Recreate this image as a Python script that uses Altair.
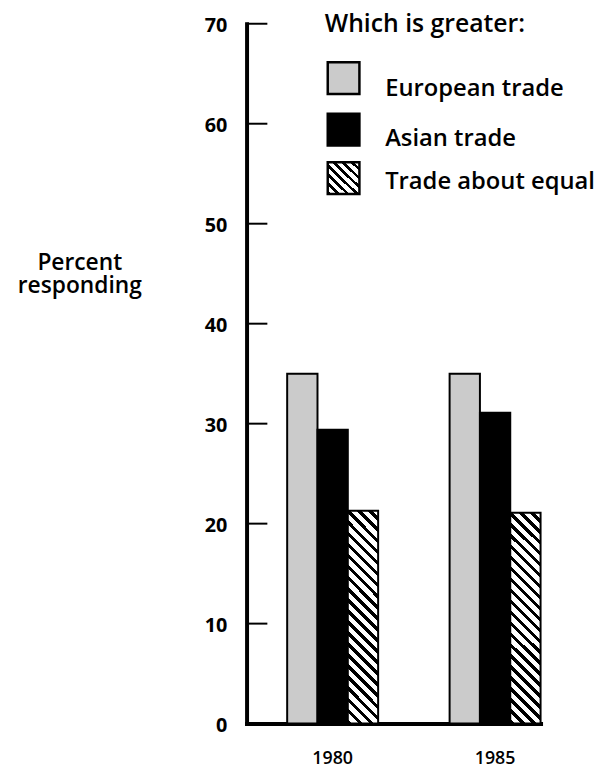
import altair as alt
import pandas as pd

years = ["1980", "1985"]
series = ["European trade", "Asian trade", "Trade about equal"]
european = [35.0, 35.0]
asian = [29.4, 31.1]
equal = [21.3, 21.1]
y_ticks = [0, 10, 20, 30, 40, 50, 60, 70]
legend_title = "Which is greater:"
y_title = ["Percent", "responding"]

rows = []
for i, yr in enumerate(years):
    for s, vals in zip(series, [european, asian, equal]):
        rows.append({"year": yr, "series": s, "value": vals[i]})
df = pd.DataFrame(rows)

W, H = 297, 707
YMAX = 70
PX = H / YMAX
P_IN, P_OUT = 0.44, 0.125
step = W / (len(years) - P_IN + 2 * P_OUT)
bar_w = step * (1 - P_IN) / len(series)
FONT = "Open Sans"
STIPPLE = "#cbcbcb"


def hatch(w, h, period, frac=0.42):
    a = (w + h) / (w * w + h * h)
    dx, dy = a * w, -a * h
    n = max(1, round((w + h) / period))
    stops = []
    for k in range(n):
        o0, o1, o2 = k / n, (k + frac) / n, (k + 1) / n
        stops += [
            {"offset": o0, "color": "#000000"},
            {"offset": o1, "color": "#000000"},
            {"offset": o1, "color": "#ffffff"},
            {"offset": o2, "color": "#ffffff"},
        ]
    return {"gradient": "linear", "x1": 0, "y1": 1, "x2": dx, "y2": 1 + dy, "stops": stops}


bar_hatch = hatch(bar_w, sum(equal) / len(equal) * PX, 11)
legend_hatch = hatch(31, 32, 9)

x_enc = alt.X(
    "year:N",
    sort=years,
    scale=alt.Scale(domain=years, paddingInner=P_IN, paddingOuter=P_OUT, align=1),
    axis=alt.Axis(
        title=None, labelAngle=0, ticks=False, tickSize=0, labelPadding=26,
        labelFont=FONT, labelFontSize=18, labelFontWeight=600, labelColor="black",
        domainColor="black", domainWidth=4, domainCap="square",
    ),
)
xo_enc = alt.XOffset(
    "series:N", sort=series,
    scale=alt.Scale(domain=series, paddingInner=0, paddingOuter=0),
)
y_enc = alt.Y(
    "value:Q",
    scale=alt.Scale(domain=[0, YMAX], nice=False, zero=True),
    axis=alt.Axis(
        values=y_ticks, grid=False, ticks=False, tickSize=0,
        labelPadding=20, labelOffset=2, labelFont=FONT, labelFontSize=20,
        labelFontWeight="bold", labelColor="black",
        domainColor="black", domainWidth=4, domainCap="square",
        title=y_title, titleAngle=0, titleX=-169, titleY=230,
        titleAlign="center", titleBaseline="top", titleFont=FONT,
        titleFontSize=23, titleFontWeight=600, titleColor="black", titleLineHeight=24,
    ),
)

tick_layer = alt.Chart(pd.DataFrame({"value": y_ticks[1:]})).mark_rule(
    color="black", strokeWidth=2
).encode(y=y_enc, x=alt.value(0), x2=alt.value(21))

bars = alt.Chart(df).transform_filter(
    alt.FieldOneOfPredicate(field="series", oneOf=series[:2])
).mark_bar(stroke="black", strokeWidth=2).encode(
    x=x_enc, xOffset=xo_enc, y=y_enc,
    fill=alt.Fill("series:N", scale=alt.Scale(domain=series[:2], range=[STIPPLE, "#000000"]), legend=None),
)

hatched = alt.Chart(df).transform_filter(
    alt.datum.series == series[2]
).mark_bar(stroke="black", strokeWidth=2, fill=bar_hatch).encode(
    x=x_enc, xOffset=xo_enc, y=y_enc,
)

one = alt.Data(values=[{"k": 1}])
swatch_fills = [STIPPLE, "#000000", legend_hatch]
swatch_y = [(39, 71), (91, 123), (140, 172)]
label_y = [73, 123, 167]
legend_layers = [
    alt.Chart(one).mark_text(
        align="left", baseline="alphabetic", font=FONT, fontSize=25, fontWeight=600, color="black"
    ).encode(x=alt.value(79), y=alt.value(8), text=alt.value(legend_title))
]
for s, f, (y0, y1), ly in zip(series, swatch_fills, swatch_y, label_y):
    legend_layers.append(
        alt.Chart(one).mark_rect(fill=f, stroke="black", strokeWidth=2.5).encode(
            x=alt.value(82), x2=alt.value(114), y=alt.value(y0), y2=alt.value(y1)
        )
    )
    legend_layers.append(
        alt.Chart(one).mark_text(
            align="left", baseline="alphabetic", font=FONT, fontSize=24, fontWeight=600, color="black"
        ).encode(x=alt.value(140), y=alt.value(ly), text=alt.value(s))
    )

chart = alt.layer(tick_layer, bars, hatched, *legend_layers).properties(
    width=W, height=H,
    autosize=alt.AutoSizeParams(type="none"),
    padding={"left": 241, "top": 12, "right": 56, "bottom": 46},
    background="white",
).configure_view(stroke=None)

chart.save("out.html", embed_options={"renderer": "svg", "actions": False})
